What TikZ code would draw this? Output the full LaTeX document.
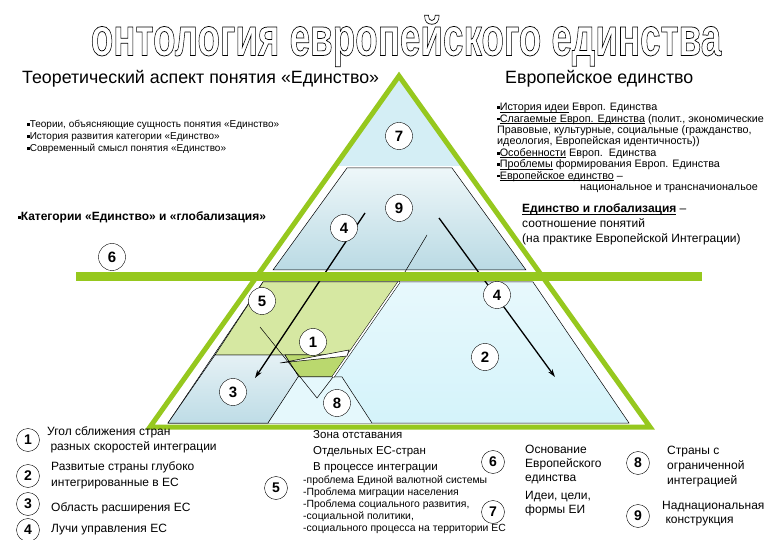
\documentclass[tikz,border=0pt]{standalone}
\usepackage{fontspec}
\setmainfont{Liberation Sans}
\usetikzlibrary{arrows.meta}
\definecolor{pyrgreen}{RGB}{150,200,30}
\definecolor{skyfill}{RGB}{212,238,245}
\definecolor{trapdark}{RGB}{186,218,228}
\definecolor{trapfair}{RGB}{238,247,249}
\definecolor{lowcyan}{RGB}{212,243,250}
\definecolor{zonegreen}{RGB}{214,232,162}
\definecolor{angdark}{RGB}{186,216,110}
\definecolor{regblue}{RGB}{190,220,230}
\newcommand{\sqb}{\rule[1.6pt]{2.6pt}{2.6pt}}
\newcommand{\uln}[1]{\underline{\smash{#1}}}
\newcommand{\hollowtext}[1]{\special{pdf:literal direct 1 Tr 0.55 w}#1\special{pdf:literal direct 0 Tr}}

\begin{document}
\begin{tikzpicture}[x=1pt,y=-1pt,
    num/.style={circle,draw,fill=white,inner sep=0pt,minimum size=27pt,
      font=\fontsize{15}{15}\selectfont\bfseries},
    keynum/.style={num,minimum size=23pt,font=\fontsize{14}{14}\selectfont\bfseries},
    ray/.style={line width=1.3pt,-{Stealth[length=8pt,width=5pt]}},
    rim/.style={line width=0.5pt},
    txt/.style={anchor=west,inner sep=0pt,align=left}]

  \useasboundingbox[fill=white] (0,0) rectangle (780,540);

  % Title
  \node (title) at (406,41)
    {\scalebox{0.92}[1.35]{\fontsize{40}{40}\selectfont\bfseries
      \hollowtext{онтология европейского единства}}};

  % Pyramid body
  \fill[skyfill] (399,80) -- (334,166) -- (464,166) -- cycle;
  \shadedraw[top color=trapfair, bottom color=trapdark, rim]
    (347,168) -- (452,168) -- (526,270) -- (273,270) -- cycle;
  \shadedraw[top color=lowcyan!55!white, bottom color=lowcyan, rim]
    (263,282) -- (533,282) -- (629,423) -- (168,423) -- cycle;

  % Regions of the lower part
  \shadedraw[top color=regblue!40!white, bottom color=regblue, rim]
    (215,355) -- (285,355) -- (299,377) -- (268,423) -- (168,423) -- cycle;
  \filldraw[fill=zonegreen, rim] (263,282) -- (399,282) -- (348,355) -- (215,355) -- cycle;
  \filldraw[fill=angdark, rim] (285,355) -- (348,355) -- (333,377) -- (299,377) -- cycle;
  \fill[lowcyan!60!white] (268,423) -- (298,377) -- (342,377) -- (372,423) -- cycle;
  \draw[rim] (268,423) -- (298,377) -- (342,377) -- (372,423);
  \draw[rim] (260,327) -- (317,398) -- (333,377);
  \draw[rim] (427,235) -- (399,282);
  \draw[rim, double=white, double distance=1.6pt] (399,282) -- (333,377);
  \draw[rim, fill=white] (280,363) -- (349,350) -- (347,356) -- cycle;

  % Rays
  \coordinate (r1s) at (365,213);
  \coordinate (r1e) at (255,378);
  \coordinate (r2s) at (439,218);
  \coordinate (r2e) at (555,377);
  \draw[ray] (r1s) -- (r1e);
  \draw[ray] (r2s) -- (r2e);

  % Outline and band
  \draw[pyrgreen, line width=5pt, line join=miter] (399,76) -- (650,427) -- (150,427) -- cycle;
  \fill[pyrgreen] (76,272) rectangle (702,281);

  % Numbers on the pyramid
  \node[num] (c7) at (399,136) {7};
  \node[num] (c9) at (399,208) {9};
  \node[num] (c4a) at (344,228) {4};
  \node[num] (c6) at (112,257) {6};
  \node[num] (c4b) at (497,295) {4};
  \node[num] (c5) at (262,301) {5};
  \node[num] (c1) at (313,342) {1};
  \node[num] (c2) at (485,357) {2};
  \node[num] (c3) at (233,392) {3};
  \node[num] (c8) at (337,403) {8};

  % Headings
  \node[txt, font=\fontsize{17.8}{20}\selectfont] (theory) at (22,79)
    {Теоретический аспект понятия «Единство»};
  \node[txt, font=\fontsize{17.8}{20}\selectfont] (europe) at (505,79)
    {Европейское единство};

  % Left notes
  \node[txt, font=\fontsize{10}{12}\selectfont] (theonotes) at (27,137)
    {\sqb Теории, объясняющие сущность понятия «Единство»\\
     \sqb История развития категории «Единство»\\
     \sqb Современный смысл понятия «Единство»};
  \node[txt, font=\fontsize{12}{14}\selectfont\bfseries] (categ) at (18,217)
    {\sqb Категории «Единство» и «глобализация»};

  % Right notes
  \node[txt, anchor=north west, font=\fontsize{10.8}{11.4}\selectfont] (euronotes) at (497,103)
    {\sqb\uln{История идеи} Европ. Единства\\
     \sqb\uln{Слагаемые Европ. Единства} (полит., экономические\\
     Правовые, культурные, социальные (гражданство,\\
     идеология, Европейская идентичность))\\
     \sqb\uln{Особенности} Европ.\ \ Единства\\
     \sqb\uln{Проблемы} формирования Европ. Единства\\
     \sqb\uln{Европейское единство} –\\
     \hspace*{83pt}национальное и трансначиональое};
  \node[txt, anchor=north west, font=\fontsize{12}{15}\selectfont] (globnote) at (522,209)
    {\textbf{\uln{Единство и глобализация}} –\\
     соотношение понятий\\
     (на практике Европейской Интеграции)};

  % Key
  \node[keynum] (k1) at (28,440) {1};
  \node[keynum] (k2) at (28,476) {2};
  \node[keynum] (k3) at (28,504) {3};
  \node[keynum] (k4) at (28,530) {4};
  \node[txt, anchor=north west, font=\fontsize{12}{15}\selectfont] (k1text) at (47,426)
    {Угол сближения стран\\ \ разных скоростей интеграции};
  \node[txt, anchor=north west, font=\fontsize{12}{16}\selectfont] (k2text) at (51,461)
    {Развитые страны глубоко\\интегрированные в ЕС};
  \node[txt, font=\fontsize{12}{14}\selectfont] (k3text) at (51,508) {Область расширения ЕС};
  \node[txt, font=\fontsize{12}{14}\selectfont] (k4text) at (51,530) {Лучи управления ЕС};

  \node[keynum] (k5) at (276,488) {5};
  \node[txt, anchor=north west, font=\fontsize{11.5}{16}\selectfont] (k5text) at (313,430)
    {Зона отставания\\Отдельных ЕС-стран\\В процессе интеграции};
  \node[txt, anchor=north west, font=\fontsize{10.4}{11.8}\selectfont] (k5list) at (303,476)
    {-проблема Единой валютной системы\\
     -Проблема миграции населения\\
     -Проблема социального развития,\\
     -социальной политики,\\
     -социального процесса на территории ЕС};
  \node[keynum] (k6) at (493,462) {6};
  \node[keynum] (k7) at (493,512) {7};
  \node[txt, anchor=north west, font=\fontsize{12}{14}\selectfont] (k6text) at (525,445)
    {Основание\\Европейского\\единства};
  \node[txt, anchor=north west, font=\fontsize{12}{14}\selectfont] (k7text) at (525,491)
    {Идеи, цели,\\формы ЕИ};
  \node[keynum] (k8) at (638,463) {8};
  \node[keynum] (k9) at (638,516) {9};
  \node[txt, anchor=north west, font=\fontsize{12}{15}\selectfont] (k8text) at (667,446)
    {Страны с\\ограниченной\\интеграцией};
  \node[txt, anchor=north west, font=\fontsize{12}{14}\selectfont] (k9text) at (662,501)
    {Наднациональная\\\ конструкция};
\end{tikzpicture}
\end{document}
